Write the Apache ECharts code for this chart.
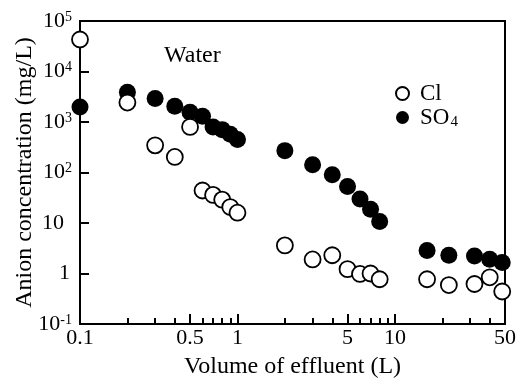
<!DOCTYPE html>
<html>
<head>
<meta charset="utf-8">
<script src="https://cdn.jsdelivr.net/npm/echarts@6/dist/echarts.min.js"></script>
<style>
  html, body { margin: 0; padding: 0; background: #fff; }
  #chart { width: 518px; height: 378px; }
</style>
</head>
<body>
<div id="chart"></div>
<script>
var volume = [0.1, 0.2, 0.3, 0.4, 0.5, 0.6, 0.7, 0.8, 0.9, 1, 2, 3, 4, 5, 6, 7, 8, 16, 22, 32, 40, 48]
var cl = [43000, 2430, 345, 203, 800, 44, 36, 29, 20.7, 16, 3.6, 1.9, 2.3, 1.22, 0.98, 1.0, 0.77, 0.77, 0.59, 0.62, 0.84, 0.44]
var so4 = [1990, 3880, 2910, 2050, 1560, 1300, 800, 706, 570, 448, 271, 143, 90, 53, 29.8, 18.8, 10.7, 2.85, 2.3, 2.23, 1.92, 1.65]

var xMajorTicks = [0.1, 0.5, 1, 5, 10, 50]
var xMinorTicks = [0.2, 0.3, 0.4, 0.6, 0.7, 0.8, 0.9, 2, 3, 4, 6, 7, 8, 9, 20, 30, 40]
var yTicks = [0.1, 1, 10, 100, 1000, 10000, 100000]

var font = 'Liberation Serif'
var chart = echarts.init(document.getElementById('chart'))

function pairs(xs, ys) {
  return xs.map(function (x, i) { return [x, ys[i]] })
}

// 10^n labels, with a little spacer so plain numbers line up like the original
function yLabel(v) {
  var e = Math.round(Math.log10(v))
  if (e === 0) return '{b|1}{sp2| }'
  if (e === 1) return '{b|10}{sp8| }'
  return '{b|10}{s|' + e + '}'
}

var option = {
  animation: false,
  title: {
    text: 'Water',
    left: 159,
    top: 39,
    textStyle: { fontFamily: font, fontSize: 24, fontWeight: 'normal', color: '#000' }
  },
  legend: {
    orient: 'vertical',
    left: 390,
    top: 77,
    itemWidth: 13,
    itemHeight: 13,
    itemGap: 1,
    formatter: function (name) {
      return name === 'SO4' ? '{n|SO}{sub|4}' : '{n|' + name + '}'
    },
    textStyle: {
      padding: [0, 0, 0, 6],
      rich: {
        n: { fontFamily: font, fontSize: 23, lineHeight: 25, color: '#000' },
        sub: { fontFamily: font, fontSize: 15, color: '#000', padding: [10, 0, 0, 1] }
      }
    },
    data: ['Cl', 'SO4']
  },
  grid: {
    left: 80, right: 13, top: 21, bottom: 54,
    outerBoundsMode: 'none',
    show: true, borderColor: '#000', borderWidth: 2
  },
  xAxis: [
    {
      type: 'log', min: 0.1, max: 50,
      name: 'Volume of effluent (L)',
      nameLocation: 'middle', nameGap: 31, nameMoveOverlap: false,
      nameTextStyle: { fontFamily: font, fontSize: 24, color: '#000' },
      axisLine: { lineStyle: { color: '#000', width: 2 } },
      axisTick: { inside: true, length: 10, customValues: xMajorTicks, lineStyle: { color: '#000', width: 2 } },
      axisLabel: { customValues: xMajorTicks, margin: 3, fontFamily: font, fontSize: 22, color: '#000' },
      splitLine: { show: false },
      minorTick: { show: false }
    },
    {
      type: 'log', min: 0.1, max: 50, position: 'bottom',
      axisLine: { show: false },
      axisTick: { inside: true, length: 6, customValues: xMinorTicks, lineStyle: { color: '#000', width: 2 } },
      axisLabel: { show: false },
      splitLine: { show: false }
    }
  ],
  yAxis: {
    type: 'log', min: 0.1, max: 100000,
    name: 'Anion concentration (mg/L)',
    nameLocation: 'middle', nameGap: 43, nameMoveOverlap: false,
    nameTextStyle: { fontFamily: font, fontSize: 24, color: '#000' },
    axisLine: { lineStyle: { color: '#000', width: 2 } },
    axisTick: { inside: true, length: 9, customValues: yTicks, lineStyle: { color: '#000', width: 2 } },
    axisLabel: {
      customValues: yTicks, margin: 8, formatter: yLabel,
      rich: {
        b: { fontFamily: font, fontSize: 22, color: '#000', verticalAlign: 'bottom' },
        s: { fontFamily: font, fontSize: 14, color: '#000', verticalAlign: 'top', padding: [0, 0, 6, 0] },
        sp2: { fontSize: 10, width: 2 },
        sp8: { fontSize: 10, width: 8 }
      }
    },
    splitLine: { show: false }
  },
  series: [
    {
      name: 'Cl', type: 'scatter', symbol: 'circle', symbolSize: 16,
      itemStyle: { color: '#fff', borderColor: '#000', borderWidth: 1.8, opacity: 1 },
      data: pairs(volume, cl), z: 3
    },
    {
      name: 'SO4', type: 'scatter', symbol: 'circle', symbolSize: 17,
      itemStyle: { color: '#000', opacity: 1 },
      data: pairs(volume, so4), z: 2
    }
  ]
}
chart.setOption(option)
</script>
</body>
</html>
